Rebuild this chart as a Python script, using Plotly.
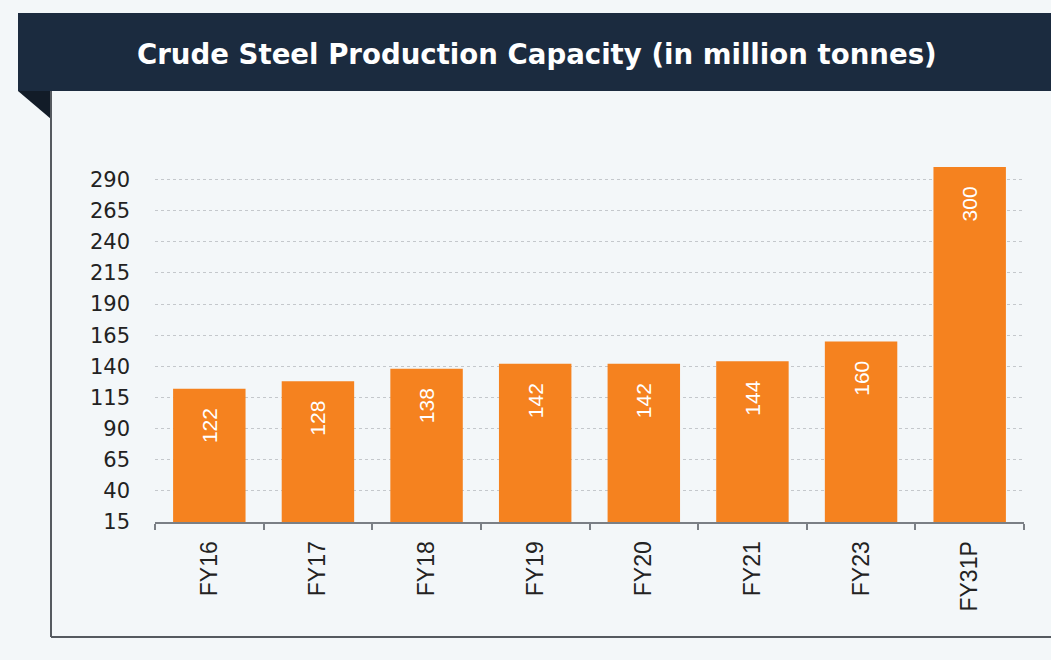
import plotly.graph_objects as go

categories = ["FY16", "FY17", "FY18", "FY19", "FY20", "FY21", "FY23", "FY31P"]
capacity = [122, 128, 138, 142, 142, 144, 160, 300]
y_ticks = [15, 40, 65, 90, 115, 140, 165, 190, 215, 240, 265, 290]
title_text = "Crude Steel Production Capacity (in million tonnes)"

W, H = 1051, 660
ML, MR, MT, MB = 155, 27, 167, 138
PW, PH = W - ML - MR, H - MT - MB

def px(x):
    return (x - ML) / PW

def py(y):
    return (H - MB - y) / PH

ORANGE = "#f5821f"
NAVY = "#1b2b3f"
BG = "#f3f7f9"
PAD = "\u2002\u00a0"

fig = go.Figure(go.Bar(
    x=categories,
    y=capacity,
    marker=dict(color=ORANGE, line=dict(width=0)),
    text=[str(v) + PAD for v in capacity],
    textposition="inside",
    insidetextanchor="end",
    textangle=-90,
    textfont=dict(color="white", size=21, family="Liberation Sans, Arial"),
    constraintext="none",
    cliponaxis=False,
    width=0.667,
    hoverinfo="x+y",
))

shapes = [
    dict(type="rect", xref="paper", yref="paper", x0=px(18), x1=px(W + 5), y0=py(91), y1=py(13),
         fillcolor=NAVY, line=dict(width=0), layer="below"),
    dict(type="path", xref="paper", yref="paper",
         path=f"M {px(18)} {py(91)} L {px(51)} {py(91)} L {px(51)} {py(119)} Z",
         fillcolor="#121c28", line=dict(width=0), layer="below"),
    dict(type="line", xref="paper", yref="paper", x0=px(51), x1=px(51), y0=py(91), y1=py(637),
         line=dict(color="#555a60", width=2)),
    dict(type="line", xref="paper", yref="paper", x0=px(51), x1=px(W + 5), y0=py(637), y1=py(637),
         line=dict(color="#555a60", width=2)),
]

fig.update_layout(
    width=W, height=H,
    margin=dict(l=ML, r=MR, t=MT, b=MB, pad=0),
    paper_bgcolor=BG,
    plot_bgcolor=BG,
    showlegend=False,
    bargap=0.333,
    shapes=shapes,
    annotations=[dict(text=f"<b>{title_text}</b>", xref="paper", yref="paper",
                      x=px(537), y=py(54), xanchor="center", yanchor="middle", showarrow=False,
                      font=dict(color="white", size=27.6, family="DejaVu Sans"))],
    font=dict(family="Liberation Sans, Arial", size=18, color="#222222"),
)

fig.update_yaxes(
    range=[15, 300],
    tickvals=y_ticks,
    ticktext=[str(t) for t in y_ticks],
    showgrid=True, gridcolor="#c4c8cc", griddash="dot", gridwidth=1,
    zeroline=False, showline=False,
    ticks="", ticklen=0,
    ticklabelstandoff=24,
    tickfont=dict(size=21, color="#222222", family="DejaVu Sans"),
)
fig.update_xaxes(
    showline=True, linecolor="#7a7f85", linewidth=2,
    ticks="outside", ticklen=6, tickcolor="#7a7f85", tickwidth=2,
    tickson="boundaries",
    tickangle=-90,
    ticklabelstandoff=8,
    tickfont=dict(size=23, color="#222222", family="Liberation Sans, Arial"),
    showgrid=False,
)

fig.write_html("out.html")
